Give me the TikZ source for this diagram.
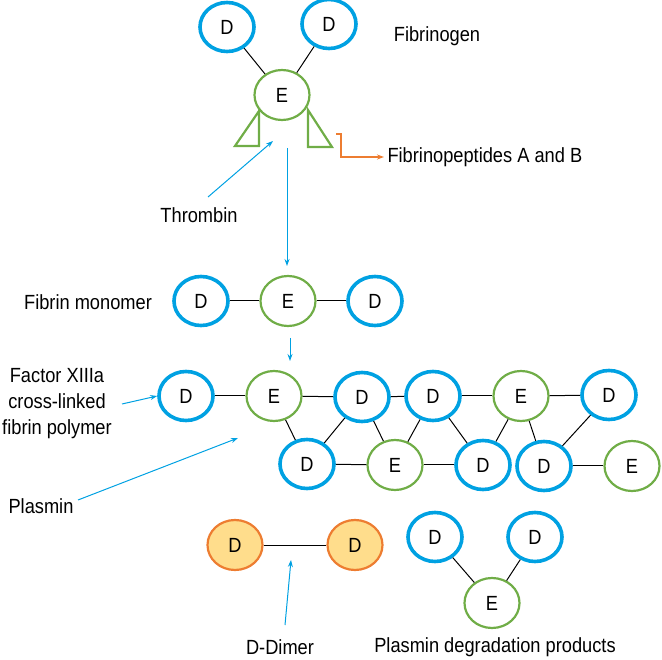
\documentclass[tikz,border=0pt]{standalone}
\usepackage{fontspec}
\setmainfont{Liberation Sans}[FakeStretch=0.89]
\usetikzlibrary{shapes.geometric,arrows.meta}

\definecolor{dblue}{RGB}{0,161,226}
\definecolor{egreen}{RGB}{112,173,71}
\definecolor{dorange}{RGB}{237,125,49}
\definecolor{dfill}{RGB}{255,221,140}

\begin{document}
\begin{tikzpicture}[x=1pt,y=-1pt,
    font=\fontsize{20.5}{24}\selectfont,
    dnode/.style={ellipse, draw=dblue, line width=3.6pt, minimum width=54pt, minimum height=49pt, inner sep=0pt},
    enode/.style={ellipse, draw=egreen, line width=2.2pt, minimum width=55pt, minimum height=50pt, inner sep=0pt},
    dimer/.style={ellipse, draw=dorange, fill=dfill, line width=2.2pt, minimum width=55pt, minimum height=50pt, inner sep=0pt},
    link/.style={black, line width=1pt},
    bluearrow/.style={dblue, line width=1pt, -{Stealth[length=7pt,width=5pt]}}]
    \useasboundingbox (0,0) rectangle (662,660);

    % fibrinogen
    \node[dnode] (fg1) at (227,27) {D};
    \node[dnode] (fg2) at (329,24) {D};
    \node[enode] (fg3) at (282,95) {E};
    \draw[link] (fg1) -- (fg3);
    \draw[link] (fg2) -- (fg3);
    \draw[egreen, line width=2.2pt, line join=miter] (259,111) -- (259,146) -- (235,146) -- cycle;
    \draw[egreen, line width=2.2pt, line join=miter] (308,110) -- (308,147) -- (332,147) -- cycle;
    \node (fgtext) at (437,36) {Fibrinogen};

    % fibrinopeptides
    \node[anchor=west] (fp) at (384,157) {Fibrinopeptides A and B};
    \coordinate (fpstart) at (336,134);
    \draw[dorange, line width=1.4pt, -{Stealth[length=7pt,width=5pt]}] (fpstart) -- ++(5,0) |- (fp.west);

    % thrombin
    \node (thr) at (199,215) {Thrombin};
    \coordinate (thrstart) at (208,197);
    \coordinate (thrend) at (273,141);
    \draw[bluearrow] (thrstart) -- (thrend);
    \coordinate (dn1) at (287,148);
    \coordinate (dn2) at (287,266);
    \draw[bluearrow] (dn1) -- (dn2);

    % fibrin monomer
    \node (montext) at (88,302) {Fibrin monomer};
    \node[dnode] (m1) at (201,301) {D};
    \node[enode] (m2) at (288,301) {E};
    \node[dnode] (m3) at (375,301) {D};
    \draw[link] (m1) -- (m2);
    \draw[link] (m2) -- (m3);
    \coordinate (dn3) at (290,338);
    \coordinate (dn4) at (290,361);
    \draw[bluearrow] (dn3) -- (dn4);

    % polymer
    \node[align=center, font=\fontsize{20.5}{26}\selectfont] (poltext) at (57,404) {Factor XIIIa\\cross-linked\\fibrin polymer};
    \node[dnode] (p1) at (186,396) {D};
    \node[enode] (p2) at (274,396) {E};
    \node[dnode] (p3) at (362,397) {D};
    \node[dnode] (p4) at (433,396) {D};
    \node[enode] (p5) at (521,396) {E};
    \node[dnode] (p6) at (609,395) {D};
    \node[dnode] (q1) at (307,464) {D};
    \node[enode] (q2) at (395,465) {E};
    \node[dnode] (q3) at (483,465) {D};
    \node[dnode] (q4) at (544,466) {D};
    \node[enode] (q5) at (632,466) {E};
    \coordinate (polstart) at (122,404);
    \draw[bluearrow] (polstart) -- (p1.west);
    \draw[link] (p1) -- (p2);
    \draw[link] (p2) -- (p3);
    \draw[link] (p3) -- (p4);
    \draw[link] (p4) -- (p5);
    \draw[link] (p5) -- (p6);
    \draw[link] (q1) -- (q2);
    \draw[link] (q2) -- (q3);
    \draw[link] (q4) -- (q5);
    \draw[link] (p2) -- (q1);
    \draw[link] (p3) -- (q1);
    \draw[link] (p3) -- (q2);
    \draw[link] (p4) -- (q2);
    \draw[link] (p4) -- (q3);
    \draw[link] (p5) -- (q3);
    \draw[link] (p5) -- (q4);
    \draw[link] (p6) -- (q4);

    % plasmin
    \node (plas) at (41,506) {Plasmin};
    \coordinate (plasstart) at (78,500);
    \coordinate (plasend) at (238,438);
    \draw[bluearrow] (plasstart) -- (plasend);

    % d-dimer
    \node[dimer] (dd1) at (235,545) {D};
    \node[dimer] (dd2) at (355,545) {D};
    \draw[link] (dd1) -- (dd2);
    \node (ddtext) at (280,647) {D-Dimer};
    \coordinate (ddstart) at (285,625);
    \coordinate (ddend) at (291,560);
    \draw[bluearrow] (ddstart) -- (ddend);

    % degradation products
    \node[dnode] (dg1) at (435,537) {D};
    \node[dnode] (dg2) at (535,537) {D};
    \node[enode] (dg3) at (492,603) {E};
    \draw[link] (dg1) -- (dg3);
    \draw[link] (dg2) -- (dg3);
    \node (dgtext) at (495,647) {Plasmin degradation products};
\end{tikzpicture}
\end{document}
